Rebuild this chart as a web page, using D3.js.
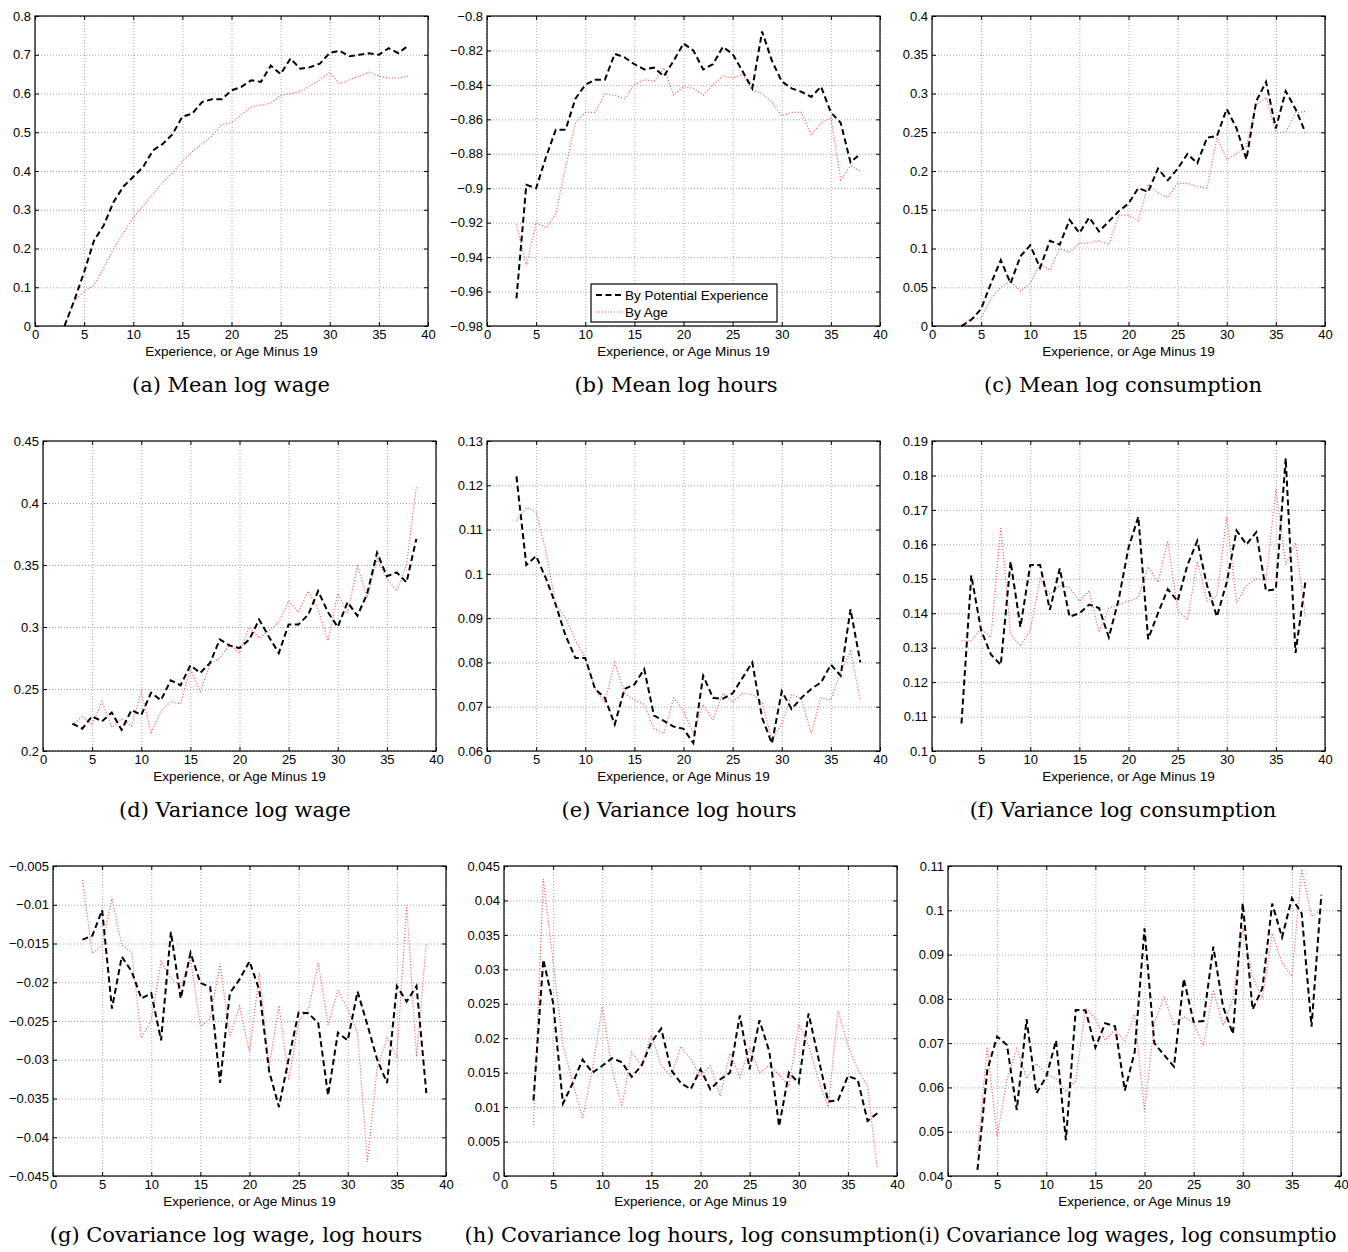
<!DOCTYPE html>
<html>
<head>
<meta charset="utf-8">
<script src="https://cdn.jsdelivr.net/npm/d3@7"></script>
<style>
  body { margin: 0; background: #fff; }
  svg { display: block; }
  .tick text { font-family: "Liberation Sans", Arial, sans-serif; font-size: 13px; fill: #000; }
  .grid line { stroke: #909090; stroke-width: 0.8; stroke-dasharray: 1,2; }
  .xlabel { font-family: "Liberation Sans", Arial, sans-serif; font-size: 13.5px; }
  .caption { font-family: "DejaVu Serif", serif; font-size: 21px; }
</style>
</head>
<body>
<div id="chart"></div>
<script>
/**
 * DATA
 * values, one entry per year of experience (3..38)
 * */
const experience = [3,4,5,6,7,8,9,10,11,12,13,14,15,16,17,18,19,20,21,22,23,24,25,26,27,28,29,30,31,32,33,34,35,36,37,38];
const xTicks = [0,5,10,15,20,25,30,35,40];

// (a) mean log wage
const meanWageExp = [0.000,0.066,0.139,0.220,0.260,0.320,0.360,0.385,0.410,0.453,0.470,0.495,0.540,0.548,0.578,0.585,0.585,0.608,0.617,0.634,0.630,0.672,0.650,0.690,0.664,0.668,0.677,0.705,0.710,0.696,0.700,0.704,0.700,0.717,0.704,0.724];
const meanWageAge = [0.000,0.065,0.090,0.105,0.150,0.200,0.240,0.280,0.310,0.340,0.370,0.395,0.425,0.450,0.470,0.490,0.520,0.525,0.545,0.565,0.570,0.575,0.595,0.600,0.605,0.620,0.635,0.655,0.625,0.635,0.645,0.655,0.645,0.640,0.640,0.645];
const ticksA = [0,0.1,0.2,0.3,0.4,0.5,0.6,0.7,0.8];

// (b) mean log hours
const meanHoursExp = [-0.964,-0.898,-0.900,-0.882,-0.866,-0.866,-0.848,-0.840,-0.837,-0.837,-0.822,-0.824,-0.828,-0.831,-0.830,-0.835,-0.826,-0.816,-0.820,-0.831,-0.828,-0.818,-0.822,-0.832,-0.842,-0.809,-0.826,-0.838,-0.842,-0.844,-0.847,-0.841,-0.856,-0.862,-0.885,-0.880];
const meanHoursAge = [-0.921,-0.945,-0.920,-0.923,-0.915,-0.888,-0.862,-0.856,-0.856,-0.845,-0.846,-0.848,-0.840,-0.837,-0.838,-0.830,-0.846,-0.841,-0.842,-0.846,-0.840,-0.835,-0.836,-0.834,-0.843,-0.845,-0.850,-0.858,-0.856,-0.856,-0.869,-0.862,-0.859,-0.895,-0.887,-0.890];
const ticksB = [-0.98,-0.96,-0.94,-0.92,-0.9,-0.88,-0.86,-0.84,-0.82,-0.8];

// (c) mean log consumption
const meanConsExp = [0.000,0.008,0.022,0.055,0.085,0.055,0.090,0.104,0.075,0.110,0.105,0.137,0.120,0.140,0.122,0.135,0.148,0.158,0.178,0.173,0.203,0.188,0.203,0.222,0.210,0.243,0.245,0.280,0.255,0.215,0.290,0.315,0.255,0.303,0.280,0.250];
const meanConsAge = [0.000,0.010,0.010,0.035,0.050,0.058,0.045,0.055,0.080,0.072,0.100,0.095,0.107,0.107,0.110,0.105,0.143,0.143,0.136,0.183,0.172,0.166,0.184,0.184,0.180,0.178,0.243,0.215,0.222,0.232,0.285,0.295,0.250,0.250,0.275,0.277];
const ticksC = [0,0.05,0.1,0.15,0.2,0.25,0.3,0.35,0.4];

// (d) variance log wage
const varWageExp = [0.222,0.218,0.228,0.224,0.231,0.217,0.233,0.229,0.247,0.241,0.257,0.253,0.269,0.263,0.271,0.290,0.285,0.283,0.290,0.306,0.292,0.279,0.302,0.302,0.310,0.329,0.312,0.300,0.320,0.309,0.327,0.360,0.341,0.344,0.336,0.371];
const varWageAge = [0.221,0.228,0.221,0.240,0.219,0.226,0.220,0.248,0.215,0.232,0.240,0.238,0.266,0.248,0.270,0.275,0.286,0.279,0.300,0.291,0.297,0.304,0.321,0.312,0.329,0.314,0.289,0.327,0.311,0.349,0.324,0.355,0.339,0.329,0.350,0.413];
const ticksD = [0.2,0.25,0.3,0.35,0.4,0.45];

// (e) variance log hours
const varHoursExp = [0.122,0.102,0.104,0.099,0.093,0.086,0.081,0.081,0.074,0.072,0.066,0.074,0.075,0.0785,0.068,0.0668,0.0655,0.065,0.0618,0.077,0.072,0.0718,0.073,0.0765,0.080,0.0675,0.0617,0.0735,0.0695,0.072,0.074,0.0755,0.0795,0.077,0.092,0.080];
const varHoursAge = [0.112,0.115,0.114,0.105,0.093,0.090,0.085,0.081,0.074,0.071,0.080,0.073,0.0715,0.0705,0.065,0.064,0.072,0.069,0.064,0.0705,0.067,0.073,0.071,0.073,0.0728,0.071,0.0625,0.066,0.0728,0.0718,0.064,0.072,0.0715,0.078,0.0825,0.0715];
const ticksE = [0.06,0.07,0.08,0.09,0.1,0.11,0.12,0.13];

// (f) variance log consumption
const varConsExp = [0.108,0.151,0.135,0.128,0.125,0.155,0.136,0.154,0.154,0.141,0.153,0.139,0.140,0.1425,0.1415,0.133,0.144,0.159,0.168,0.1325,0.140,0.147,0.1435,0.154,0.161,0.148,0.139,0.149,0.164,0.160,0.1635,0.1465,0.147,0.185,0.1285,0.149];
const varConsAge = [0.132,0.132,0.1355,0.133,0.165,0.134,0.1305,0.135,0.150,0.1455,0.148,0.1475,0.1435,0.1465,0.1345,0.1415,0.1425,0.1435,0.1445,0.1535,0.149,0.161,0.141,0.138,0.155,0.1435,0.145,0.168,0.143,0.148,0.150,0.1495,0.176,0.154,0.1605,0.139];
const ticksF = [0.1,0.11,0.12,0.13,0.14,0.15,0.16,0.17,0.18,0.19];

// (g) covariance log wage, log hours
const covWageHoursExp = [-0.0145,-0.0140,-0.0107,-0.0234,-0.0167,-0.0186,-0.0221,-0.0214,-0.0275,-0.0135,-0.0221,-0.0162,-0.0201,-0.0206,-0.0330,-0.0214,-0.0196,-0.0173,-0.0210,-0.0315,-0.0361,-0.0298,-0.0239,-0.0240,-0.0253,-0.0346,-0.0265,-0.0275,-0.0212,-0.0255,-0.0300,-0.0330,-0.0205,-0.0225,-0.0205,-0.0343];
const covWageHoursAge = [-0.0068,-0.0163,-0.0152,-0.0092,-0.0152,-0.0161,-0.0272,-0.0249,-0.0173,-0.0195,-0.0205,-0.0170,-0.0257,-0.0247,-0.0176,-0.0270,-0.0231,-0.0290,-0.0188,-0.0309,-0.0230,-0.0326,-0.0250,-0.0235,-0.0175,-0.0255,-0.0210,-0.0235,-0.0265,-0.0432,-0.0310,-0.0272,-0.0296,-0.0100,-0.0296,-0.0150];
const ticksG = [-0.045,-0.04,-0.035,-0.03,-0.025,-0.02,-0.015,-0.01,-0.005];

// (h) covariance log hours, log consumption
const covHoursConsExp = [0.0110,0.0314,0.0251,0.0105,0.0135,0.0169,0.0150,0.0160,0.0171,0.0165,0.0144,0.0160,0.0194,0.0214,0.0154,0.0135,0.0126,0.0155,0.0126,0.0140,0.0150,0.0233,0.0155,0.0226,0.0181,0.0072,0.0150,0.0135,0.0236,0.0171,0.0108,0.0110,0.0145,0.0140,0.0080,0.0091];
const covHoursConsAge = [0.0074,0.0431,0.0311,0.0190,0.0135,0.0084,0.0155,0.0246,0.0155,0.0101,0.0180,0.0160,0.0205,0.0160,0.0145,0.0188,0.0170,0.0145,0.0160,0.0116,0.0178,0.0143,0.0187,0.0150,0.0160,0.0147,0.0130,0.0220,0.0190,0.0140,0.0100,0.0240,0.0190,0.0155,0.0130,0.0010];
const ticksH = [0,0.005,0.01,0.015,0.02,0.025,0.03,0.035,0.04,0.045];

// (i) covariance log wages, log consumption
const covWageConsExp = [0.0414,0.0639,0.0715,0.0696,0.0549,0.0754,0.0587,0.0624,0.0706,0.0481,0.0775,0.0774,0.0690,0.0745,0.0738,0.0593,0.0680,0.0959,0.0700,0.0673,0.0647,0.0845,0.0748,0.0750,0.0918,0.0782,0.0721,0.1016,0.0776,0.0824,0.1015,0.0939,0.1027,0.0993,0.0737,0.1035];
const covWageConsAge = [0.0451,0.0692,0.0489,0.0617,0.0688,0.0620,0.0654,0.0630,0.0620,0.0590,0.0615,0.0779,0.0755,0.0707,0.0730,0.0705,0.0765,0.0545,0.0745,0.0805,0.0740,0.0760,0.0745,0.0695,0.0820,0.0740,0.0800,0.0962,0.0850,0.0800,0.0948,0.0882,0.0850,0.1093,0.0986,0.1001];
const ticksI = [0.04,0.05,0.06,0.07,0.08,0.09,0.1,0.11];

const captions = [
  "(a) Mean log wage", "(b) Mean log hours", "(c) Mean log consumption",
  "(d) Variance log wage", "(e) Variance log hours", "(f) Variance log consumption",
  "(g) Covariance log wage, log hours", "(h) Covariance log hours, log consumption", "(i) Covariance log wages, log consumptio"
];
const seriesNames = ["By Potential Experience", "By Age"];

/**
 * LAYOUT
 * */
const width = 1348, height = 1252;
const plotW = 393, plotH = 310;
// left edge / top edge of each axes box, and caption centre
// (last caption runs into the page edge in the original: start-anchored, a bit smaller)
const layout = [
  { left: 35,  top: 16,  cap: 231 },
  { left: 487, top: 16,  cap: 676 },
  { left: 932, top: 16,  cap: 1123 },
  { left: 43,  top: 441, cap: 235 },
  { left: 487, top: 441, cap: 679 },
  { left: 932, top: 441, cap: 1123 },
  { left: 53,  top: 866, cap: 236 },
  { left: 504, top: 866, cap: 691 },
  { left: 948, top: 866, cap: 918, anchor: "start", size: 20 },
];

const panels = [
  { exp: meanWageExp,      age: meanWageAge,      ticks: ticksA },
  { exp: meanHoursExp,     age: meanHoursAge,     ticks: ticksB, legend: true },
  { exp: meanConsExp,      age: meanConsAge,      ticks: ticksC },
  { exp: varWageExp,       age: varWageAge,       ticks: ticksD },
  { exp: varHoursExp,      age: varHoursAge,      ticks: ticksE },
  { exp: varConsExp,       age: varConsAge,       ticks: ticksF },
  { exp: covWageHoursExp,  age: covWageHoursAge,  ticks: ticksG },
  { exp: covHoursConsExp,  age: covHoursConsAge,  ticks: ticksH },
  { exp: covWageConsExp,   age: covWageConsAge,   ticks: ticksI },
];

const styleExp = { stroke: "#000", width: 2, dash: "6,3.5" };
const styleAge = { stroke: "#ff5c5c", width: 1.2, dash: "1.1,1.9" };

const svg = d3.select("#chart")
  .append("svg")
  .attr("width", width)
  .attr("height", height);

svg.append("rect").attr("width", width).attr("height", height).attr("fill", "#fff");

const fmt = d3.format("~g");

panels.forEach((p, i) => {
  const L = layout[i];
  const g = svg.append("g").attr("transform", `translate(${L.left},${L.top})`);

  const x = d3.scaleLinear().domain([0, 40]).range([0, plotW]);
  const y = d3.scaleLinear().domain(d3.extent(p.ticks)).range([plotH, 0]);

  // grid
  g.append("g").attr("class", "grid")
    .attr("transform", `translate(0,${plotH})`)
    .call(d3.axisBottom(x).tickValues(xTicks).tickSize(-plotH).tickFormat(""))
    .call(a => a.select(".domain").remove());
  g.append("g").attr("class", "grid")
    .call(d3.axisLeft(y).tickValues(p.ticks).tickSize(-plotW).tickFormat(""))
    .call(a => a.select(".domain").remove());

  // lines
  const line = vals => d3.line()
    .x((d, k) => x(experience[k]))
    .y(d => y(d))(vals);

  g.append("path")
    .attr("d", line(p.age))
    .attr("fill", "none")
    .attr("stroke", styleAge.stroke)
    .attr("stroke-width", styleAge.width)
    .attr("stroke-dasharray", styleAge.dash);

  g.append("path")
    .attr("d", line(p.exp))
    .attr("fill", "none")
    .attr("stroke", styleExp.stroke)
    .attr("stroke-width", styleExp.width)
    .attr("stroke-dasharray", styleExp.dash);

  // axes with inward ticks (matlab style)
  g.append("g")
    .attr("transform", `translate(0,${plotH})`)
    .call(d3.axisBottom(x).tickValues(xTicks).tickSizeInner(-4).tickSizeOuter(0).tickPadding(4).tickFormat(fmt))
    .call(a => a.select(".domain").remove());
  g.append("g")
    .call(d3.axisLeft(y).tickValues(p.ticks).tickSizeInner(-4).tickSizeOuter(0).tickPadding(4).tickFormat(fmt))
    .call(a => a.select(".domain").remove());
  g.append("g")
    .call(d3.axisTop(x).tickValues(xTicks).tickSizeInner(-4).tickSizeOuter(0).tickFormat(""))
    .call(a => a.select(".domain").remove());
  g.append("g")
    .attr("transform", `translate(${plotW},0)`)
    .call(d3.axisRight(y).tickValues(p.ticks).tickSizeInner(-4).tickSizeOuter(0).tickFormat(""))
    .call(a => a.select(".domain").remove());

  g.selectAll(".tick line").attr("stroke", "#000");

  // box
  g.append("rect")
    .attr("width", plotW).attr("height", plotH)
    .attr("fill", "none").attr("stroke", "#000").attr("stroke-width", 1.2);

  // x label
  g.append("text")
    .attr("class", "xlabel")
    .attr("x", plotW / 2).attr("y", plotH + 30)
    .attr("text-anchor", "middle")
    .text("Experience, or Age Minus 19");

  // legend
  if (p.legend) {
    const lg = g.append("g").attr("transform", `translate(${plotW - 289},${plotH - 42})`);
    lg.append("rect").attr("width", 186).attr("height", 38)
      .attr("fill", "#fff").attr("stroke", "#000").attr("stroke-width", 1.2);
    [styleExp, styleAge].forEach((s, k) => {
      const yy = 11 + k * 17;
      lg.append("line").attr("x1", 5).attr("x2", 32).attr("y1", yy).attr("y2", yy)
        .attr("stroke", s.stroke).attr("stroke-width", s.width).attr("stroke-dasharray", s.dash);
      lg.append("text").attr("x", 34).attr("y", yy).attr("dy", "0.35em")
        .attr("class", "xlabel")
        .text(seriesNames[k]);
    });
  }

  // caption
  const cap = svg.append("text")
    .attr("class", "caption")
    .attr("x", L.cap).attr("y", L.top + plotH + 66)
    .attr("text-anchor", L.anchor || "middle")
    .text(captions[i]);
  if (L.size) cap.style("font-size", L.size + "px");
});
</script>
</body>
</html>
